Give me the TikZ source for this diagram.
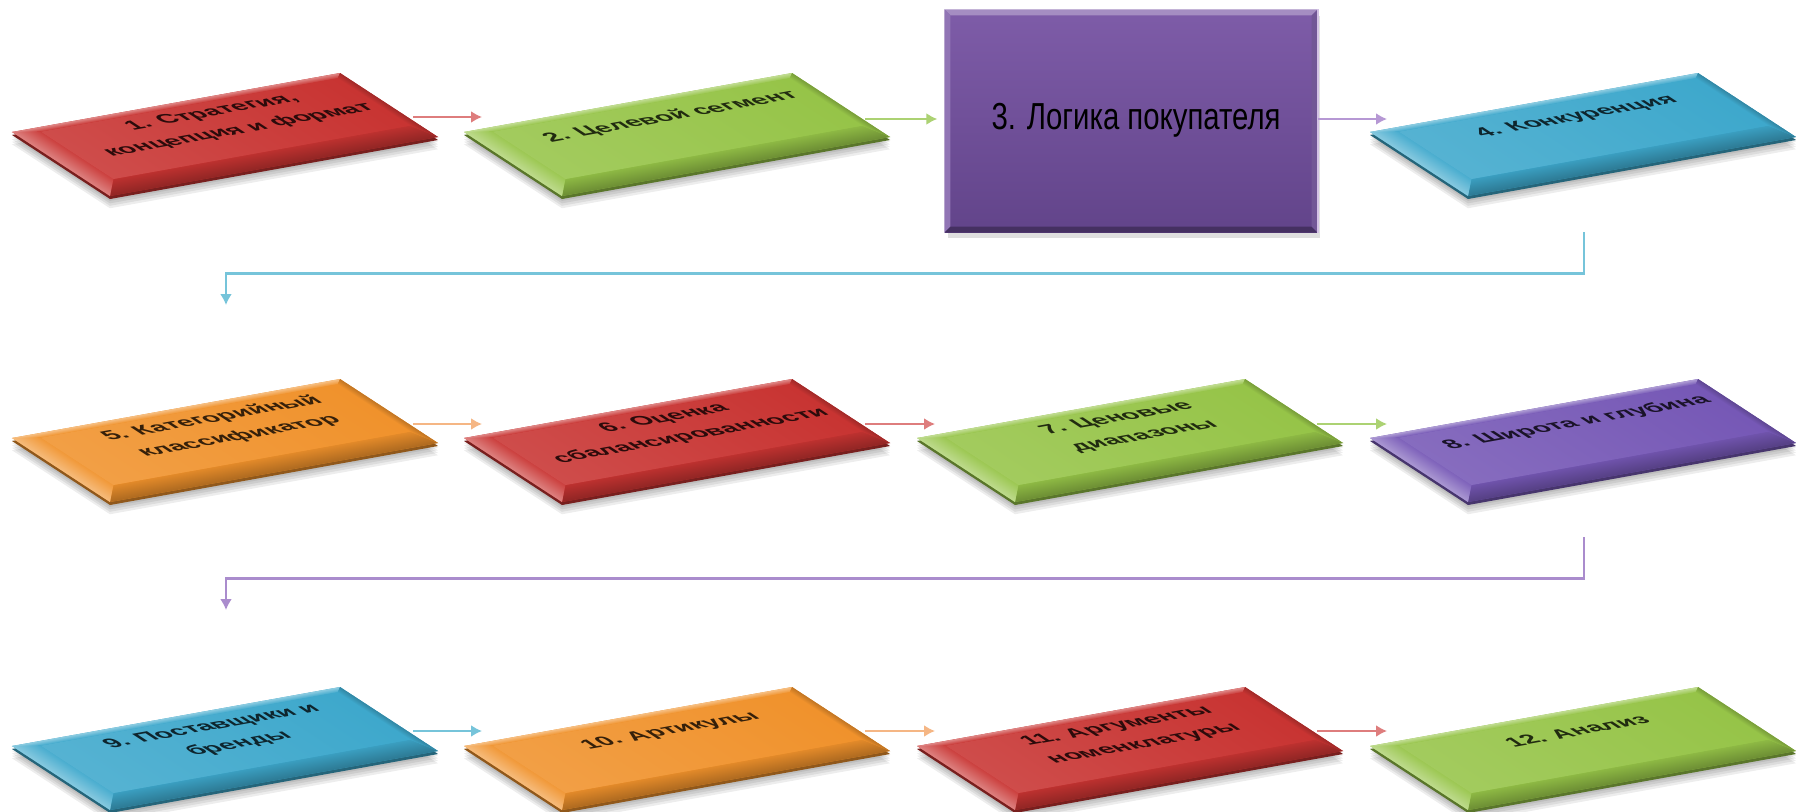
\documentclass[tikz,border=0pt]{standalone}
\usepackage{fontspec}
\setmainfont{Liberation Sans}
\usepackage{graphicx}
\usetikzlibrary{arrows.meta,shadows}

% tile colours
\definecolor{cRed}{RGB}{200,52,50}
\definecolor{cGreen}{RGB}{150,196,72}
\definecolor{cBlue}{RGB}{62,168,204}
\definecolor{cOrange}{RGB}{240,146,44}
\definecolor{cPurple}{RGB}{118,88,182}
\definecolor{vTop}{RGB}{126,92,168}
\definecolor{vBot}{RGB}{98,68,138}
% link colours
\definecolor{lRed}{RGB}{222,125,125}
\definecolor{lGreen}{RGB}{172,210,115}
\definecolor{lViolet}{RGB}{182,152,212}
\definecolor{lBlue}{RGB}{118,196,218}
\definecolor{lOrange}{RGB}{245,182,132}
\definecolor{lPurple}{RGB}{170,140,205}

\tikzset{
  link/.style={draw=#1, line width=0.6pt, -{Latex[length=1.1mm,width=1.2mm]}},
  slabtext/.style={font=\fontsize{7.4}{11.5}\selectfont\bfseries, align=center,
    inner sep=0pt, cm={0.984,0.177,-0.67,0.438,(0,0)}},
}

% bevelled slab seen in perspective
% #1 name, #2 x, #3 y of the left corner, #4 colour, #5 text, #6 depth of the text
\newcommand\slab[6]{%
  \begin{scope}[transform canvas={shift={(#2,#3)}, cm={3.28,0.59,0.98,-0.64,(0,0)}}]
    \foreach \d in {0.03,0.06,0.09,0.12,0.15}{
      \fill[black, opacity=0.07, shift={(-0.3*\d,\d)}] (0,0) rectangle (1,1);
    }
    \fill[#4!60!black, shift={(-0.011,0.037)}] (0,0) rectangle (1,1);
    \fill[#4] (0,0) rectangle (1,1);
    % back edge
    \shade[bottom color=#4!60!white, top color=#4]
      (0,0) -- (1,0) -- (0.975,0.06) -- (0.07,0.06) -- cycle;
    % front edge
    \shade[bottom color=#4!94!black, top color=#4!72!black]
      (0,1) -- (0.07,0.8) -- (0.975,0.8) -- (1,1) -- cycle;
    % left edge
    \shade[left color=#4!62!white, right color=#4!94!white]
      (0,0) -- (0.07,0.06) -- (0.07,0.8) -- (0,1) -- cycle;
    % right edge
    \shade[left color=#4, right color=#4!80!black]
      (1,0) -- (1,1) -- (0.975,0.8) -- (0.975,0.06) -- cycle;
    % top face
    \shade[left color=#4!88!white, right color=#4]
      (0.07,0.06) rectangle (0.975,0.8);
  \end{scope}
  \begin{scope}[shift={(#2,#3)}, x={(3.28cm,0.59cm)}, y={(0.98cm,-0.64cm)}]
    \node[slabtext, text=#4!22!black] (#1) at (0.55,#6) {#5};
  \end{scope}
}

\begin{document}
\begin{tikzpicture}
  \useasboundingbox (0,0) rectangle (17.96,-8.11);
  \fill[white] (0,0) rectangle (17.96,-8.11);

  % connector ports
  \coordinate (o1) at (4.13,-1.17);   \coordinate (i2) at (4.82,-1.17);
  \coordinate (o2) at (8.65,-1.19);
  \coordinate (i4) at (13.87,-1.19);
  \coordinate (o4) at (15.84,-2.32);  \coordinate (i5) at (2.26,-3.05);
  \coordinate (o5) at (4.13,-4.24);   \coordinate (i6) at (4.82,-4.24);
  \coordinate (o6) at (8.65,-4.24);   \coordinate (i7) at (9.35,-4.24);
  \coordinate (o7) at (13.17,-4.24);  \coordinate (i8) at (13.87,-4.24);
  \coordinate (o8) at (15.84,-5.37);  \coordinate (i9) at (2.26,-6.10);
  \coordinate (o9) at (4.13,-7.31);   \coordinate (i10) at (4.82,-7.31);
  \coordinate (o10) at (8.65,-7.31);  \coordinate (i11) at (9.35,-7.31);
  \coordinate (o11) at (13.17,-7.31); \coordinate (i12) at (13.87,-7.31);

  % the highlighted step
  \node[minimum width=3.72cm, minimum height=2.22cm, inner sep=0pt,
        top color=vTop, bottom color=vBot,
        drop shadow={shadow xshift=0.3mm, shadow yshift=-0.6mm, opacity=0.25}]
        (n3) at (11.31,-1.21) {};
  \fill[vTop!70!white] (n3.north west) -- (n3.north east) -- ([xshift=-0.6mm,yshift=-0.6mm]n3.north east) -- ([xshift=0.6mm,yshift=-0.6mm]n3.north west) -- cycle;
  \fill[vTop!85!white] (n3.north west) -- ([xshift=0.6mm,yshift=-0.6mm]n3.north west) -- ([xshift=0.6mm,yshift=0.6mm]n3.south west) -- (n3.south west) -- cycle;
  \fill[vBot!70!black] (n3.south west) -- ([xshift=0.6mm,yshift=0.6mm]n3.south west) -- ([xshift=-0.6mm,yshift=0.6mm]n3.south east) -- (n3.south east) -- cycle;
  \fill[vBot!90!white] (n3.north east) -- (n3.south east) -- ([xshift=-0.6mm,yshift=0.6mm]n3.south east) -- ([xshift=-0.6mm,yshift=-0.6mm]n3.north east) -- cycle;
  \draw[lViolet!60!white, line width=0.5pt] (n3.north east) -- (n3.south east);
  \node[font=\fontsize{10.7}{12}\selectfont, text=black] (t3) at (11.36,-1.2)
        {\scalebox{0.78}[1]{3. Логика покупателя}};

  % connectors
  \draw[link=lRed]    (o1) -- (i2);
  \draw[link=lGreen]  (o2) -- ([xshift=-0.7mm]n3.west |- o2);
  \draw[link=lViolet] (n3.east |- i4) -- (i4);
  \draw[link=lBlue]   (o4) -- ++(0,-0.415) -| (i5);
  \draw[link=lOrange] (o5) -- (i6);
  \draw[link=lRed]    (o6) -- (i7);
  \draw[link=lGreen]  (o7) -- (i8);
  \draw[link=lPurple] (o8) -- ++(0,-0.415) -| (i9);
  \draw[link=lBlue]   (o9) -- (i10);
  \draw[link=lOrange] (o10) -- (i11);
  \draw[link=lRed]    (o11) -- (i12);

  % steps
  \slab{n1}{0.12}{-1.32}{cRed}{1. Стратегия,\\ концепция и формат}{0.34}
  \slab{n2}{4.64}{-1.32}{cGreen}{2. Целевой сегмент}{0.27}
  \slab{n4}{13.70}{-1.32}{cBlue}{4. Конкуренция}{0.27}
  \slab{n5}{0.12}{-4.38}{cOrange}{5. Категорийный\\ классификатор}{0.34}
  \slab{n6}{4.64}{-4.38}{cRed}{6. Оценка\\ сбалансированности}{0.34}
  \slab{n7}{9.17}{-4.38}{cGreen}{7. Ценовые\\ диапазоны}{0.34}
  \slab{n8}{13.70}{-4.38}{cPurple}{8. Широта и глубина}{0.27}
  \slab{n9}{0.12}{-7.46}{cBlue}{9. Поставщики и\\ бренды}{0.34}
  \slab{n10}{4.64}{-7.46}{cOrange}{10. Артикулы}{0.27}
  \slab{n11}{9.17}{-7.46}{cRed}{11. Аргументы\\ номенклатуры}{0.34}
  \slab{n12}{13.70}{-7.46}{cGreen}{12. Анализ}{0.27}
\end{tikzpicture}
\end{document}
